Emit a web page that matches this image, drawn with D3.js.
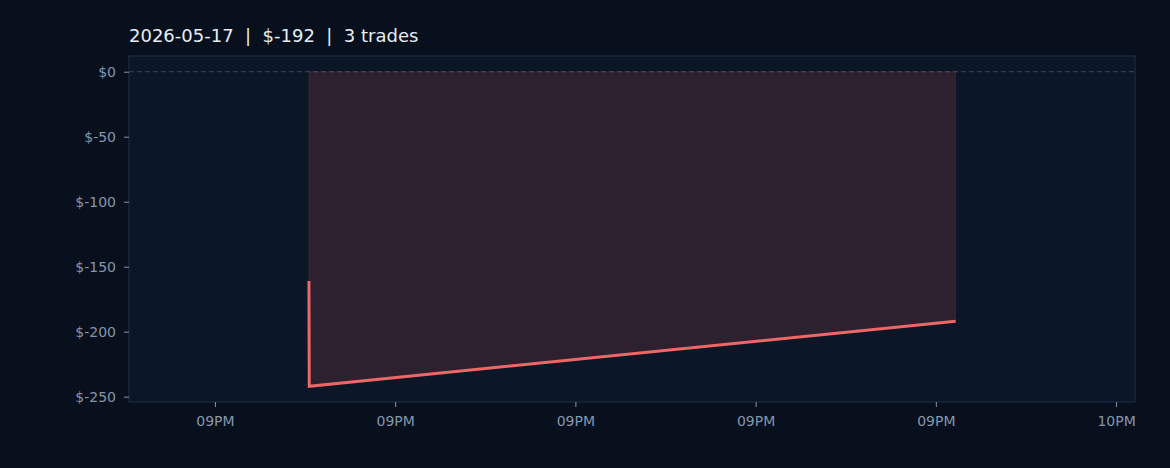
<!DOCTYPE html>
<html>
<head>
<meta charset="utf-8">
<script src="https://cdn.jsdelivr.net/npm/d3@7"></script>
<style>
  html, body { margin: 0; padding: 0; background: #07101c; }
  svg { display: block; font-family: "DejaVu Sans", sans-serif; }
</style>
</head>
<body>
<div class="graph"></div>
<script>
// cumulative pnl for the day, one point per trade close
const times = ["2026-05-17T21:15:13", "2026-05-17T21:15:14", "2026-05-17T21:51:06"];
const pnl = [-161, -242, -192];
const titleText = "2026-05-17  |  $-192  |  3 trades";
const yTicks = [0, -50, -100, -150, -200, -250];
const xStart = "2026-05-17T21:05:14", xEnd = "2026-05-17T22:01:03";

const parse = d3.isoParse;
const data = times.map((t, i) => ({ t: parse(t), v: pnl[i] }));

const W = 1170, H = 468;
const margin = { top: 56, right: 35, bottom: 66, left: 129 };
const width = W - margin.left - margin.right,
      height = H - margin.top - margin.bottom;

const svg = d3.select(".graph").append("svg")
  .attr("width", W).attr("height", H);

svg.append("rect").attr("width", W).attr("height", H).attr("fill", "#07101c");

const g = svg.append("g")
  .attr("transform", "translate(" + margin.left + "," + margin.top + ")");

const x = d3.scaleTime()
  .domain([parse(xStart), parse(xEnd)])
  .range([0, width]);

const y = d3.scaleLinear()
  .domain([-254.1, 12.1])
  .range([height, 0]);

g.append("rect")
  .attr("width", width).attr("height", height)
  .attr("fill", "#0b1626");

// zero line
g.append("line")
  .attr("x1", 0).attr("x2", width)
  .attr("y1", y(0)).attr("y2", y(0))
  .attr("stroke", "#3b4a5f").attr("stroke-width", 1)
  .attr("stroke-dasharray", "5,3");

// fill between 0 and the curve
g.append("path")
  .datum(data)
  .attr("fill", "#ef6666").attr("fill-opacity", 0.15)
  .attr("stroke", "#ef6666").attr("stroke-opacity", 0.12)
  .attr("d", d3.area()
    .x(d => x(d.t))
    .y0(y(0))
    .y1(d => y(d.v)));

g.append("path")
  .datum(data)
  .attr("fill", "none")
  .attr("stroke", "#ef6666")
  .attr("stroke-width", 3)
  .attr("d", d3.line()
    .x(d => x(d.t))
    .y(d => y(d.v)));

// frame
g.append("rect")
  .attr("width", width).attr("height", height)
  .attr("fill", "none").attr("stroke", "#1c2b42").attr("stroke-width", 1.2);

const fmtTime = d3.timeFormat("%I%p");
const xAxis = g.append("g")
  .attr("transform", "translate(0," + height + ")")
  .call(d3.axisBottom(x).ticks(d3.timeMinute.every(10)).tickFormat(fmtTime)
    .tickSize(5).tickPadding(9));

const yAxis = g.append("g")
  .call(d3.axisLeft(y).tickValues(yTicks).tickFormat(d => "$" + d)
    .tickSize(5).tickPadding(8));

[xAxis, yAxis].forEach(a => {
  a.select(".domain").remove();
  a.selectAll(".tick line").attr("stroke", "#8595ad").attr("stroke-width", 1);
  a.selectAll(".tick text").attr("fill", "#8595ad")
    .style("font-size", "14px").style("font-family", "DejaVu Sans");
});

svg.append("text")
  .attr("x", 129).attr("y", 42)
  .attr("fill", "#e6edf3")
  .style("font-size", "18px")
  .style("font-family", "DejaVu Sans")
  .style("white-space", "pre")
  .attr("xml:space", "preserve")
  .text(titleText);
</script>
</body>
</html>
